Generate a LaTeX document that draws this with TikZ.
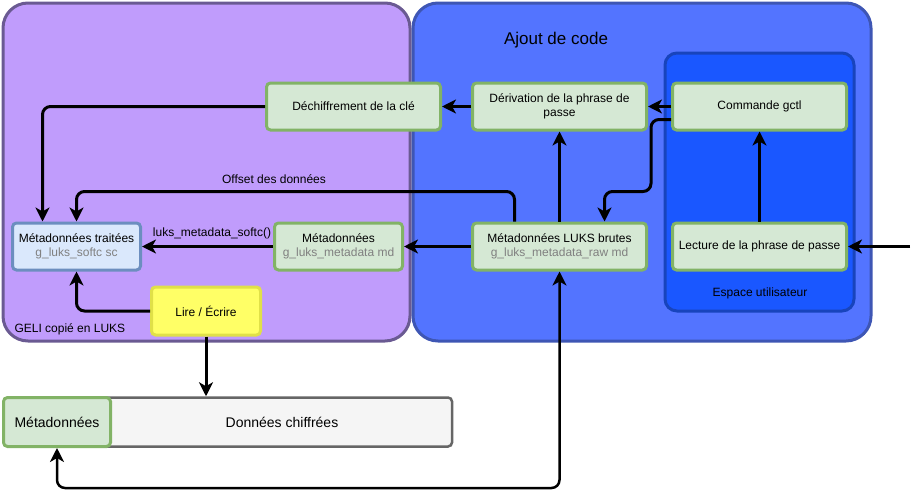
\documentclass[tikz,border=0pt]{standalone}
\usepackage{fontspec}
\setmainfont{Liberation Sans}
\usetikzlibrary{calc, positioning, arrows.meta, shapes}

\definecolor{geliFill}{HTML}{C09CFC}
\definecolor{geliLine}{HTML}{6A5A92}
\definecolor{ajoutFill}{HTML}{5374FF}
\definecolor{ajoutLine}{HTML}{3E56B4}
\definecolor{userFill}{HTML}{1A57FF}
\definecolor{userLine}{HTML}{1844BC}
\definecolor{greenFill}{HTML}{D5E8D4}
\definecolor{greenLine}{HTML}{82B366}
\definecolor{blueFill}{HTML}{DAE8FC}
\definecolor{blueLine}{HTML}{6C8EBF}
\definecolor{yellowFill}{HTML}{FFFF66}
\definecolor{yellowLine}{HTML}{E0E048}
\definecolor{grayFill}{HTML}{F5F5F5}
\definecolor{grayLine}{HTML}{666666}
\definecolor{subgray}{HTML}{808080}

\tikzset{
  >={Stealth[length=14pt,width=14pt,inset=4pt]},
  txt/.style={font=\fontsize{12}{14}\selectfont},
  box/.style={txt, line width=3pt, rounded corners=4pt, align=center, inner sep=2pt},
  greenbox/.style={box, draw=greenLine, fill=greenFill, minimum width=174pt, minimum height=47pt},
  wire/.style={line width=3pt, rounded corners=8pt, ->},
}

\begin{document}
\begin{tikzpicture}[x=1pt,y=-1pt]
\useasboundingbox (0,0) rectangle (920,498);
\draw[line width=3pt, draw=geliLine, fill=geliFill, rounded corners=25pt] (3,3) rectangle (410,341);
\draw[line width=3pt, draw=ajoutLine, fill=ajoutFill, rounded corners=25pt] (413,3) rectangle (871,341);
\draw[line width=3pt, draw=userLine, fill=userFill, rounded corners=12pt] (665,53) rectangle (854,311);
\node[font=\fontsize{17}{20}\selectfont] (ajout) at (556,40) {Ajout de code};
\node[txt, anchor=west] (geli) at (11,329) {GELI copié en LUKS};
\node[txt] (espace) at (760,293) {Espace utilisateur};

\node[greenbox] (dechiffr) at (353.5,106.5) {Déchiffrement de la clé};
\node[greenbox] (deriv) at (559.5,106.5) {Dérivation de la phrase de\\passe};
\node[greenbox] (gctl) at (759.5,106.5) {Commande gctl};
\node[greenbox] (brutes) at (559.5,246.5) {Métadonnées LUKS brutes\\\textcolor{subgray}{g\_luks\_metadata\_raw md}};
\node[greenbox] (lecture) at (759.5,246.5) {Lecture de la phrase de passe};
\node[greenbox, minimum width=128pt] (md) at (338.5,246.5) {Métadonnées\\\textcolor{subgray}{g\_luks\_metadata md}};
\node[box, draw=blueLine, fill=blueFill, minimum width=128pt, minimum height=47pt] (traitees) at (76.5,246.5) {Métadonnées traitées\\\textcolor{subgray}{g\_luks\_softc sc}};
\node[box, draw=yellowLine, fill=yellowFill, minimum width=109pt, minimum height=48pt] (rw) at (206,311) {Lire / Écrire};

\node[box, line width=2.5pt, draw=grayLine, fill=grayFill, minimum width=352pt, minimum height=49pt, font=\fontsize{14}{16}\selectfont] (data) at (276,422) {\hspace*{12pt}Données chiffrées};
\node[greenbox, minimum width=107pt, minimum height=49pt, font=\fontsize{14}{16}\selectfont] (meta) at (57,422) {Métadonnées};

\node[txt] (offset) at (274,179) {Offset des données};
\node[txt] (softc) at (212,233) {luks\_metadata\_softc()};
\coordinate (input) at (910,246.5);

\foreach \a/\b in {deriv/dechiffr, gctl/deriv, brutes/md, md/traitees, lecture/gctl, brutes/deriv, input/lecture}
  \draw[wire] (\a) -- (\b);
\draw[wire] (dechiffr.west) -| ([xshift=-34pt]traitees.north);
\draw[wire] ([xshift=-45pt]brutes.north) -- ++(0,-30) -| (traitees.north);
\draw[wire] ([yshift=-13pt]gctl.west) -- ++(-20,0) -- ++(0,72) -| ([xshift=45pt]brutes.north);
\draw[wire] (rw.west) -| (traitees.south);
\draw[wire] (rw.south) -- (rw.south |- data.north);
\draw[wire, line width=2.5pt, <->] (meta.south) -- ++(0,40) -| (brutes.south);
\end{tikzpicture}
\end{document}
